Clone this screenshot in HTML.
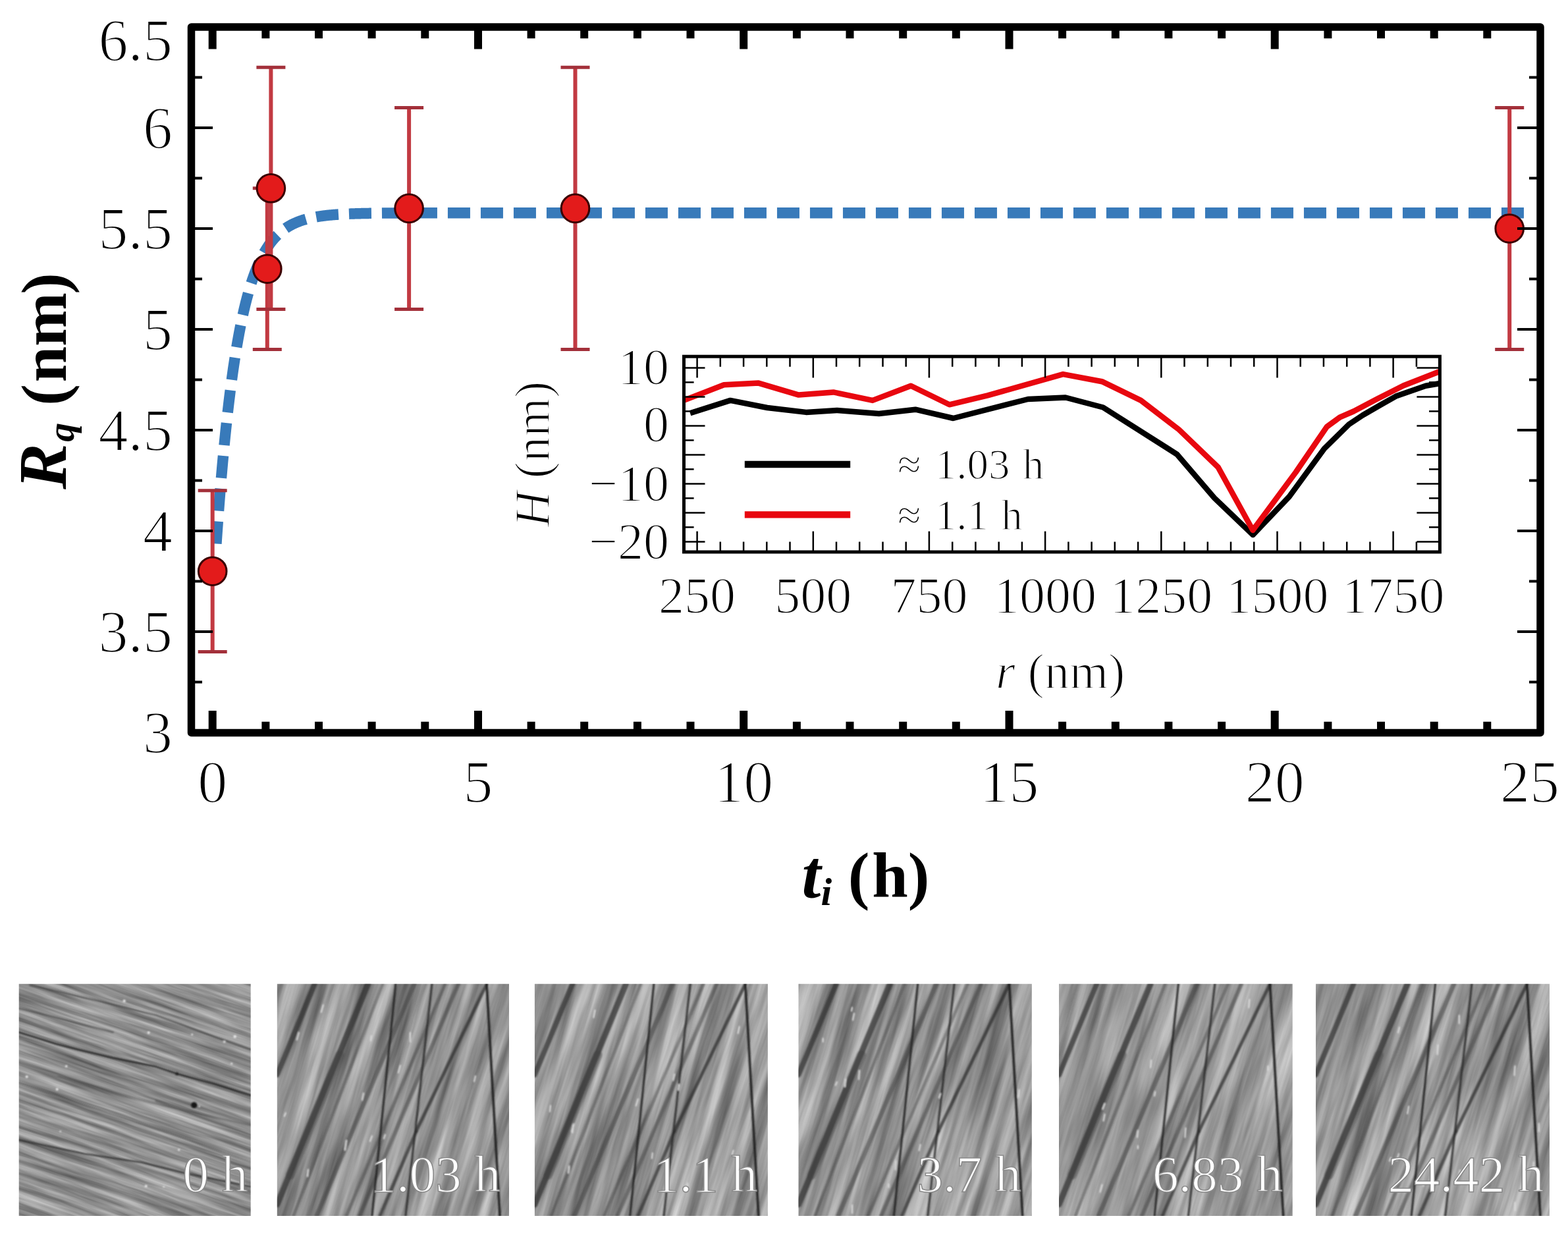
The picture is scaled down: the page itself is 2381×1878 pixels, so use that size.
<!DOCTYPE html>
<html><head><meta charset="utf-8"><title>Rq vs ti</title>
<style>
html,body{margin:0;padding:0;background:#fff;}
body{width:2381px;height:1878px;overflow:hidden;}
svg{display:block;}
text{font-family:"Liberation Serif","Times New Roman",serif;}
</style></head>
<body>
<svg width="2381" height="1878" viewBox="0 0 2381 1878">
<defs><filter id="bl" x="-5%" y="-5%" width="110%" height="110%"><feGaussianBlur stdDeviation="1.3"/></filter><filter id="nA" color-interpolation-filters="sRGB" filterUnits="userSpaceOnUse" x="-300" y="-300" width="600" height="600"><feTurbulence type="fractalNoise" baseFrequency="0.006 0.11" numOctaves="4" seed="5"/><feColorMatrix type="matrix" values="0.55 0 0 0 0.285  0.55 0 0 0 0.285  0.55 0 0 0 0.285  0 0 0 0 1"/></filter><filter id="nB1" color-interpolation-filters="sRGB" filterUnits="userSpaceOnUse" x="-300" y="-300" width="600" height="600"><feTurbulence type="fractalNoise" baseFrequency="0.0035 0.05" numOctaves="4" seed="10"/><feColorMatrix type="matrix" values="0.62 0 0 0 0.28  0.62 0 0 0 0.28  0.62 0 0 0 0.28  0 0 0 0 1"/></filter><filter id="nB2" color-interpolation-filters="sRGB" filterUnits="userSpaceOnUse" x="-300" y="-300" width="600" height="600"><feTurbulence type="fractalNoise" baseFrequency="0.0035 0.05" numOctaves="4" seed="11"/><feColorMatrix type="matrix" values="0.62 0 0 0 0.28  0.62 0 0 0 0.28  0.62 0 0 0 0.28  0 0 0 0 1"/></filter><filter id="nB3" color-interpolation-filters="sRGB" filterUnits="userSpaceOnUse" x="-300" y="-300" width="600" height="600"><feTurbulence type="fractalNoise" baseFrequency="0.0035 0.05" numOctaves="4" seed="12"/><feColorMatrix type="matrix" values="0.62 0 0 0 0.28  0.62 0 0 0 0.28  0.62 0 0 0 0.28  0 0 0 0 1"/></filter><filter id="nB4" color-interpolation-filters="sRGB" filterUnits="userSpaceOnUse" x="-300" y="-300" width="600" height="600"><feTurbulence type="fractalNoise" baseFrequency="0.0035 0.05" numOctaves="4" seed="13"/><feColorMatrix type="matrix" values="0.62 0 0 0 0.28  0.62 0 0 0 0.28  0.62 0 0 0 0.28  0 0 0 0 1"/></filter><filter id="nB5" color-interpolation-filters="sRGB" filterUnits="userSpaceOnUse" x="-300" y="-300" width="600" height="600"><feTurbulence type="fractalNoise" baseFrequency="0.0035 0.05" numOctaves="4" seed="14"/><feColorMatrix type="matrix" values="0.62 0 0 0 0.28  0.62 0 0 0 0.28  0.62 0 0 0 0.28  0 0 0 0 1"/></filter></defs>
<rect width="2381" height="1878" fill="#fff"/>
<!-- fit curve -->
<path d="M2313.95,323.29 L2273.62,323.29 L2233.30,323.29 L2192.97,323.29 L2152.65,323.29 L2112.32,323.29 L2072.00,323.29 L2031.67,323.29 L1991.35,323.29 L1951.02,323.29 L1910.70,323.29 L1870.37,323.29 L1830.05,323.29 L1789.72,323.29 L1749.40,323.29 L1709.07,323.29 L1668.75,323.29 L1628.42,323.29 L1588.10,323.29 L1547.77,323.29 L1507.45,323.29 L1467.12,323.29 L1426.80,323.29 L1386.47,323.29 L1346.15,323.29 L1305.82,323.29 L1265.50,323.29 L1225.17,323.29 L1184.85,323.29 L1144.52,323.29 L1104.20,323.29 L1063.87,323.29 L1023.55,323.29 L983.22,323.29 L942.90,323.29 L902.57,323.29 L862.25,323.29 L821.92,323.29 L781.60,323.29 L741.27,323.29 L700.95,323.29 L660.62,323.32 L620.30,323.39 L579.97,323.61 L564.65,323.80 L563.84,323.81 L563.04,323.82 L562.23,323.84 L561.42,323.85 L560.62,323.86 L559.81,323.88 L559.00,323.89 L558.20,323.91 L557.39,323.92 L556.59,323.94 L555.78,323.95 L554.97,323.97 L554.17,323.98 L553.36,324.00 L552.55,324.02 L551.75,324.03 L550.94,324.05 L550.13,324.07 L549.33,324.09 L548.52,324.11 L547.71,324.13 L546.91,324.15 L546.10,324.17 L545.29,324.19 L544.49,324.21 L543.68,324.23 L542.87,324.25 L542.07,324.28 L541.26,324.30 L540.46,324.33 L539.65,324.35 L538.84,324.38 L538.04,324.40 L537.23,324.43 L536.42,324.46 L535.62,324.48 L534.81,324.51 L534.00,324.54 L533.20,324.57 L532.39,324.60 L531.58,324.63 L530.78,324.66 L529.97,324.70 L529.16,324.73 L528.36,324.77 L527.55,324.80 L526.74,324.84 L525.94,324.87 L525.13,324.91 L524.33,324.95 L523.52,324.99 L522.71,325.03 L521.91,325.07 L521.10,325.11 L520.29,325.16 L519.49,325.20 L518.68,325.25 L517.87,325.29 L517.07,325.34 L516.26,325.39 L515.45,325.44 L514.65,325.49 L513.84,325.54 L513.03,325.60 L512.23,325.65 L511.42,325.71 L510.61,325.77 L509.81,325.83 L509.00,325.89 L508.20,325.95 L507.39,326.01 L506.58,326.08 L505.78,326.14 L504.97,326.21 L504.16,326.28 L503.36,326.35 L502.55,326.43 L501.74,326.50 L500.94,326.58 L500.13,326.65 L499.32,326.73 L498.52,326.82 L497.71,326.90 L496.90,326.99 L496.10,327.07 L495.29,327.16 L494.48,327.26 L493.68,327.35 L492.87,327.45 L492.07,327.55 L491.26,327.65 L490.45,327.75 L489.65,327.86 L488.84,327.97 L488.03,328.08 L487.23,328.19 L486.42,328.31 L485.61,328.43 L484.81,328.55 L484.00,328.68 L483.19,328.80 L482.39,328.94 L481.58,329.07 L480.77,329.21 L479.97,329.35 L479.16,329.49 L478.35,329.64 L477.55,329.79 L476.74,329.95 L475.94,330.10 L475.13,330.27 L474.32,330.43 L473.52,330.60 L472.71,330.78 L471.90,330.95 L471.10,331.14 L470.29,331.32 L469.48,331.51 L468.68,331.71 L467.87,331.91 L467.06,332.12 L466.26,332.33 L465.45,332.54 L464.64,332.76 L463.84,332.99 L463.03,333.22 L462.22,333.45 L461.42,333.69 L460.61,333.94 L459.81,334.20 L459.00,334.45 L458.19,334.72 L457.39,334.99 L456.58,335.27 L455.77,335.56 L454.97,335.85 L454.16,336.15 L453.35,336.45 L452.55,336.77 L451.74,337.09 L450.93,337.41 L450.13,337.75 L449.32,338.09 L448.51,338.45 L447.71,338.81 L446.90,339.18 L446.09,339.55 L445.29,339.94 L444.48,340.34 L443.68,340.74 L442.87,341.16 L442.06,341.58 L441.26,342.02 L440.45,342.46 L439.64,342.92 L438.84,343.39 L438.03,343.86 L437.22,344.35 L436.42,344.85 L435.61,345.37 L434.80,345.89 L434.00,346.43 L433.19,346.98 L432.38,347.54 L431.58,348.12 L430.77,348.71 L429.96,349.31 L429.16,349.93 L428.35,350.57 L427.55,351.22 L426.74,351.88 L425.93,352.56 L425.13,353.26 L424.32,353.97 L423.51,354.70 L422.71,355.45 L421.90,356.21 L421.09,356.99 L420.29,357.79 L419.48,358.61 L418.67,359.45 L417.87,360.31 L417.06,361.20 L416.25,362.10 L415.45,363.02 L414.64,363.96 L413.83,364.93 L413.03,365.92 L412.22,366.94 L411.42,367.97 L410.61,369.04 L409.80,370.12 L409.00,371.24 L408.19,372.38 L407.38,373.55 L406.58,374.74 L405.77,375.96 L404.96,377.22 L404.16,378.50 L403.35,379.81 L402.54,381.16 L401.74,382.53 L400.93,383.94 L400.12,385.38 L399.32,386.86 L398.51,388.37 L397.70,389.92 L396.90,391.50 L396.09,393.13 L395.29,394.79 L394.48,396.49 L393.67,398.23 L392.87,400.01 L392.06,401.83 L391.25,403.70 L390.45,405.61 L389.64,407.57 L388.83,409.58 L388.03,411.63 L387.22,413.73 L386.41,415.88 L385.61,418.08 L384.80,420.33 L383.99,422.64 L383.19,425.01 L382.38,427.42 L381.57,429.90 L380.77,432.44 L379.96,435.03 L379.16,437.69 L378.35,440.41 L377.54,443.19 L376.74,446.04 L375.93,448.96 L375.12,451.95 L374.32,455.01 L373.51,458.14 L372.70,461.35 L371.90,464.63 L371.09,467.99 L370.28,471.44 L369.48,474.96 L368.67,478.56 L367.86,482.26 L367.06,486.04 L366.25,489.91 L365.44,493.87 L364.64,497.92 L363.83,502.08 L363.03,506.33 L362.22,510.68 L361.41,515.14 L360.61,519.70 L359.80,524.37 L358.99,529.15 L358.19,534.05 L357.38,539.06 L356.57,544.19 L355.77,549.44 L354.96,554.82 L354.15,560.32 L353.35,565.96 L352.54,571.73 L351.73,577.64 L350.93,583.69 L350.12,589.88 L349.31,596.22 L348.51,602.71 L347.70,609.35 L346.90,616.15 L346.09,623.12 L345.28,630.25 L344.48,637.55 L343.67,645.02 L342.86,652.67 L342.06,660.50 L341.25,668.52 L340.44,676.73 L339.64,685.13 L338.83,693.74 L338.02,702.55 L337.22,711.56 L336.41,720.80 L335.60,730.25 L334.80,739.93 L333.99,749.83 L333.18,759.98 L332.38,770.36 L331.57,780.99 L330.77,791.87 L329.96,803.02 L329.15,814.42 L328.35,826.10 L328.31,826.69" fill="none" stroke="#387aba" stroke-width="16.5" stroke-dasharray="34 16"/>
<!-- error bars -->
<g stroke="#c23a42">
<line x1="322.7" y1="744.8" x2="322.7" y2="989.6" stroke-width="6"/>
<line x1="300.7" y1="744.8" x2="344.7" y2="744.8" stroke="#a3303a" stroke-width="5"/>
<line x1="300.7" y1="989.6" x2="344.7" y2="989.6" stroke="#a3303a" stroke-width="5"/>
<line x1="405.8" y1="285.8" x2="405.8" y2="530.6" stroke-width="6"/>
<line x1="383.8" y1="285.8" x2="427.8" y2="285.8" stroke="#a3303a" stroke-width="5"/>
<line x1="383.8" y1="530.6" x2="427.8" y2="530.6" stroke="#a3303a" stroke-width="5"/>
<line x1="411.4" y1="102.2" x2="411.4" y2="469.4" stroke-width="6"/>
<line x1="389.4" y1="102.2" x2="433.4" y2="102.2" stroke="#a3303a" stroke-width="5"/>
<line x1="389.4" y1="469.4" x2="433.4" y2="469.4" stroke="#a3303a" stroke-width="5"/>
<line x1="621.1" y1="163.4" x2="621.1" y2="469.4" stroke-width="6"/>
<line x1="599.1" y1="163.4" x2="643.1" y2="163.4" stroke="#a3303a" stroke-width="5"/>
<line x1="599.1" y1="469.4" x2="643.1" y2="469.4" stroke="#a3303a" stroke-width="5"/>
<line x1="873.5" y1="102.2" x2="873.5" y2="530.6" stroke-width="6"/>
<line x1="851.5" y1="102.2" x2="895.5" y2="102.2" stroke="#a3303a" stroke-width="5"/>
<line x1="851.5" y1="530.6" x2="895.5" y2="530.6" stroke="#a3303a" stroke-width="5"/>
<line x1="2292.2" y1="163.4" x2="2292.2" y2="530.6" stroke-width="6"/>
<line x1="2270.2" y1="163.4" x2="2314.2" y2="163.4" stroke="#a3303a" stroke-width="5"/>
<line x1="2270.2" y1="530.6" x2="2314.2" y2="530.6" stroke="#a3303a" stroke-width="5"/>
</g>
<g fill="#e31b1b" stroke="#3a0000" stroke-width="3">
<circle cx="322.7" cy="867.2" r="21.3"/>
<circle cx="405.8" cy="408.2" r="21.3"/>
<circle cx="411.4" cy="285.8" r="21.3"/>
<circle cx="621.1" cy="316.4" r="21.3"/>
<circle cx="873.5" cy="316.4" r="21.3"/>
<circle cx="2292.2" cy="347.0" r="21.3"/>
</g>
<!-- inset -->
<g stroke-linejoin="round" stroke-linecap="butt" fill="none" stroke-width="8.5">
<polyline points="1048,627.3 1109,607.9 1165,619 1224,625.9 1271,623 1334.7,628 1390,621.7 1447.5,635 1561,606 1618,603.5 1675,618.5 1787,689.6 1844,756 1902.5,812 1957.7,754 2011,681 2027.3,665 2048.4,644.3 2069.5,630.2 2097.6,614 2119.7,601.6 2165,585.7 2185.3,582.3" stroke="#000"/>
<polyline points="1038.3,607.9 1099.3,584.3 1151.9,581.6 1212.8,599.6 1265.5,595.4 1325,607.9 1383.2,585.7 1441.6,614.3 1499.7,600.4 1614.2,568.1 1673.3,579.2 1732.4,607.8 1790,652 1849.7,709.4 1902.4,805 1967.6,717 2015,647.7 2034.3,633.7 2055.4,624.5 2090.5,606 2131,585.5 2185.3,564.2" stroke="#e8070f"/>
</g>
<g stroke="#000" stroke-width="2.5">
<line x1="1058.6" y1="541.2" x2="1058.6" y2="573.5"/>
<line x1="1058.6" y1="838" x2="1058.6" y2="806.6"/>
<line x1="1093.8" y1="541.2" x2="1093.8" y2="556.8"/>
<line x1="1093.8" y1="838" x2="1093.8" y2="822.5"/>
<line x1="1129.1" y1="541.2" x2="1129.1" y2="556.8"/>
<line x1="1129.1" y1="838" x2="1129.1" y2="822.5"/>
<line x1="1164.3" y1="541.2" x2="1164.3" y2="556.8"/>
<line x1="1164.3" y1="838" x2="1164.3" y2="822.5"/>
<line x1="1199.5" y1="541.2" x2="1199.5" y2="556.8"/>
<line x1="1199.5" y1="838" x2="1199.5" y2="822.5"/>
<line x1="1234.8" y1="541.2" x2="1234.8" y2="573.5"/>
<line x1="1234.8" y1="838" x2="1234.8" y2="806.6"/>
<line x1="1270.0" y1="541.2" x2="1270.0" y2="556.8"/>
<line x1="1270.0" y1="838" x2="1270.0" y2="822.5"/>
<line x1="1305.2" y1="541.2" x2="1305.2" y2="556.8"/>
<line x1="1305.2" y1="838" x2="1305.2" y2="822.5"/>
<line x1="1340.5" y1="541.2" x2="1340.5" y2="556.8"/>
<line x1="1340.5" y1="838" x2="1340.5" y2="822.5"/>
<line x1="1375.7" y1="541.2" x2="1375.7" y2="556.8"/>
<line x1="1375.7" y1="838" x2="1375.7" y2="822.5"/>
<line x1="1410.9" y1="541.2" x2="1410.9" y2="573.5"/>
<line x1="1410.9" y1="838" x2="1410.9" y2="806.6"/>
<line x1="1446.2" y1="541.2" x2="1446.2" y2="556.8"/>
<line x1="1446.2" y1="838" x2="1446.2" y2="822.5"/>
<line x1="1481.4" y1="541.2" x2="1481.4" y2="556.8"/>
<line x1="1481.4" y1="838" x2="1481.4" y2="822.5"/>
<line x1="1516.7" y1="541.2" x2="1516.7" y2="556.8"/>
<line x1="1516.7" y1="838" x2="1516.7" y2="822.5"/>
<line x1="1551.9" y1="541.2" x2="1551.9" y2="556.8"/>
<line x1="1551.9" y1="838" x2="1551.9" y2="822.5"/>
<line x1="1587.1" y1="541.2" x2="1587.1" y2="573.5"/>
<line x1="1587.1" y1="838" x2="1587.1" y2="806.6"/>
<line x1="1622.4" y1="541.2" x2="1622.4" y2="556.8"/>
<line x1="1622.4" y1="838" x2="1622.4" y2="822.5"/>
<line x1="1657.6" y1="541.2" x2="1657.6" y2="556.8"/>
<line x1="1657.6" y1="838" x2="1657.6" y2="822.5"/>
<line x1="1692.8" y1="541.2" x2="1692.8" y2="556.8"/>
<line x1="1692.8" y1="838" x2="1692.8" y2="822.5"/>
<line x1="1728.1" y1="541.2" x2="1728.1" y2="556.8"/>
<line x1="1728.1" y1="838" x2="1728.1" y2="822.5"/>
<line x1="1763.3" y1="541.2" x2="1763.3" y2="573.5"/>
<line x1="1763.3" y1="838" x2="1763.3" y2="806.6"/>
<line x1="1798.5" y1="541.2" x2="1798.5" y2="556.8"/>
<line x1="1798.5" y1="838" x2="1798.5" y2="822.5"/>
<line x1="1833.8" y1="541.2" x2="1833.8" y2="556.8"/>
<line x1="1833.8" y1="838" x2="1833.8" y2="822.5"/>
<line x1="1869.0" y1="541.2" x2="1869.0" y2="556.8"/>
<line x1="1869.0" y1="838" x2="1869.0" y2="822.5"/>
<line x1="1904.2" y1="541.2" x2="1904.2" y2="556.8"/>
<line x1="1904.2" y1="838" x2="1904.2" y2="822.5"/>
<line x1="1939.5" y1="541.2" x2="1939.5" y2="573.5"/>
<line x1="1939.5" y1="838" x2="1939.5" y2="806.6"/>
<line x1="1974.7" y1="541.2" x2="1974.7" y2="556.8"/>
<line x1="1974.7" y1="838" x2="1974.7" y2="822.5"/>
<line x1="2009.9" y1="541.2" x2="2009.9" y2="556.8"/>
<line x1="2009.9" y1="838" x2="2009.9" y2="822.5"/>
<line x1="2045.2" y1="541.2" x2="2045.2" y2="556.8"/>
<line x1="2045.2" y1="838" x2="2045.2" y2="822.5"/>
<line x1="2080.4" y1="541.2" x2="2080.4" y2="556.8"/>
<line x1="2080.4" y1="838" x2="2080.4" y2="822.5"/>
<line x1="2115.6" y1="541.2" x2="2115.6" y2="573.5"/>
<line x1="2115.6" y1="838" x2="2115.6" y2="806.6"/>
<line x1="2150.9" y1="541.2" x2="2150.9" y2="556.8"/>
<line x1="2150.9" y1="838" x2="2150.9" y2="822.5"/>
<line x1="1038.5" y1="822.4" x2="1070.5" y2="822.4"/>
<line x1="2186.4" y1="822.4" x2="2151.4" y2="822.4"/>
<line x1="1038.5" y1="800.4" x2="1053.6" y2="800.4"/>
<line x1="2186.4" y1="800.4" x2="2170" y2="800.4"/>
<line x1="1038.5" y1="778.4" x2="1070.5" y2="778.4"/>
<line x1="2186.4" y1="778.4" x2="2151.4" y2="778.4"/>
<line x1="1038.5" y1="756.4" x2="1053.6" y2="756.4"/>
<line x1="2186.4" y1="756.4" x2="2170" y2="756.4"/>
<line x1="1038.5" y1="734.4" x2="1070.5" y2="734.4"/>
<line x1="2186.4" y1="734.4" x2="2151.4" y2="734.4"/>
<line x1="1038.5" y1="712.4" x2="1053.6" y2="712.4"/>
<line x1="2186.4" y1="712.4" x2="2170" y2="712.4"/>
<line x1="1038.5" y1="690.4" x2="1070.5" y2="690.4"/>
<line x1="2186.4" y1="690.4" x2="2151.4" y2="690.4"/>
<line x1="1038.5" y1="668.4" x2="1053.6" y2="668.4"/>
<line x1="2186.4" y1="668.4" x2="2170" y2="668.4"/>
<line x1="1038.5" y1="646.4" x2="1070.5" y2="646.4"/>
<line x1="2186.4" y1="646.4" x2="2151.4" y2="646.4"/>
<line x1="1038.5" y1="624.4" x2="1053.6" y2="624.4"/>
<line x1="2186.4" y1="624.4" x2="2170" y2="624.4"/>
<line x1="1038.5" y1="602.4" x2="1070.5" y2="602.4"/>
<line x1="2186.4" y1="602.4" x2="2151.4" y2="602.4"/>
<line x1="1038.5" y1="580.4" x2="1053.6" y2="580.4"/>
<line x1="2186.4" y1="580.4" x2="2170" y2="580.4"/>
<line x1="1038.5" y1="558.4" x2="1070.5" y2="558.4"/>
<line x1="2186.4" y1="558.4" x2="2151.4" y2="558.4"/>
</g>
<rect x="1038.5" y="541.2" width="1147.9" height="296.8" fill="none" stroke="#000" stroke-width="5"/>
<line x1="1130.8" y1="705" x2="1291.2" y2="705" stroke="#000" stroke-width="10.4"/>
<line x1="1130.8" y1="781.4" x2="1291.2" y2="781.4" stroke="#e8070f" stroke-width="10.4"/>
<g font-size="65" stroke="#fff" stroke-width="1.6">
<text x="1363" y="727">≈</text><text x="1419.7" y="727">1.03 <tspan dx="3">h</tspan></text>
<text x="1363" y="803.8">≈</text><text x="1419.7" y="803.8">1.1 <tspan dx="3">h</tspan></text>
</g>
<g font-size="78" stroke="#fff" stroke-width="1.8">
<text x="1058.6" y="929.5" text-anchor="middle">250</text>
<text x="1234.8" y="929.5" text-anchor="middle">500</text>
<text x="1410.9" y="929.5" text-anchor="middle">750</text>
<text x="1587.1" y="929.5" text-anchor="middle">1000</text>
<text x="1763.3" y="929.5" text-anchor="middle">1250</text>
<text x="1939.5" y="929.5" text-anchor="middle">1500</text>
<text x="2115.6" y="929.5" text-anchor="middle">1750</text>
<text x="1016" y="583" text-anchor="end">10</text>
<text x="1016" y="670" text-anchor="end">0</text>
<text x="1016" y="759.5" text-anchor="end">−10</text>
<text x="1016" y="847.5" text-anchor="end">−20</text>
<text x="1512" y="1044.5" font-size="76"><tspan font-style="italic">r</tspan> (nm)</text>
<text transform="translate(833.7,689.5) rotate(-90)" text-anchor="middle" font-size="76"><tspan font-style="italic">H</tspan> (nm)</text>
</g>
<!-- main frame -->
<g stroke="#000" stroke-width="12">
<line x1="322.7" y1="41" x2="322.7" y2="74.5"/>
<line x1="322.7" y1="1112.5" x2="322.7" y2="1079"/>
<line x1="403.4" y1="41" x2="403.4" y2="58.3"/>
<line x1="403.4" y1="1112.5" x2="403.4" y2="1095.7"/>
<line x1="484.0" y1="41" x2="484.0" y2="58.3"/>
<line x1="484.0" y1="1112.5" x2="484.0" y2="1095.7"/>
<line x1="564.6" y1="41" x2="564.6" y2="58.3"/>
<line x1="564.6" y1="1112.5" x2="564.6" y2="1095.7"/>
<line x1="645.3" y1="41" x2="645.3" y2="58.3"/>
<line x1="645.3" y1="1112.5" x2="645.3" y2="1095.7"/>
<line x1="726.0" y1="41" x2="726.0" y2="74.5"/>
<line x1="726.0" y1="1112.5" x2="726.0" y2="1079"/>
<line x1="806.6" y1="41" x2="806.6" y2="58.3"/>
<line x1="806.6" y1="1112.5" x2="806.6" y2="1095.7"/>
<line x1="887.2" y1="41" x2="887.2" y2="58.3"/>
<line x1="887.2" y1="1112.5" x2="887.2" y2="1095.7"/>
<line x1="967.9" y1="41" x2="967.9" y2="58.3"/>
<line x1="967.9" y1="1112.5" x2="967.9" y2="1095.7"/>
<line x1="1048.5" y1="41" x2="1048.5" y2="58.3"/>
<line x1="1048.5" y1="1112.5" x2="1048.5" y2="1095.7"/>
<line x1="1129.2" y1="41" x2="1129.2" y2="74.5"/>
<line x1="1129.2" y1="1112.5" x2="1129.2" y2="1079"/>
<line x1="1209.9" y1="41" x2="1209.9" y2="58.3"/>
<line x1="1209.9" y1="1112.5" x2="1209.9" y2="1095.7"/>
<line x1="1290.5" y1="41" x2="1290.5" y2="58.3"/>
<line x1="1290.5" y1="1112.5" x2="1290.5" y2="1095.7"/>
<line x1="1371.2" y1="41" x2="1371.2" y2="58.3"/>
<line x1="1371.2" y1="1112.5" x2="1371.2" y2="1095.7"/>
<line x1="1451.8" y1="41" x2="1451.8" y2="58.3"/>
<line x1="1451.8" y1="1112.5" x2="1451.8" y2="1095.7"/>
<line x1="1532.5" y1="41" x2="1532.5" y2="74.5"/>
<line x1="1532.5" y1="1112.5" x2="1532.5" y2="1079"/>
<line x1="1613.1" y1="41" x2="1613.1" y2="58.3"/>
<line x1="1613.1" y1="1112.5" x2="1613.1" y2="1095.7"/>
<line x1="1693.8" y1="41" x2="1693.8" y2="58.3"/>
<line x1="1693.8" y1="1112.5" x2="1693.8" y2="1095.7"/>
<line x1="1774.4" y1="41" x2="1774.4" y2="58.3"/>
<line x1="1774.4" y1="1112.5" x2="1774.4" y2="1095.7"/>
<line x1="1855.1" y1="41" x2="1855.1" y2="58.3"/>
<line x1="1855.1" y1="1112.5" x2="1855.1" y2="1095.7"/>
<line x1="1935.7" y1="41" x2="1935.7" y2="74.5"/>
<line x1="1935.7" y1="1112.5" x2="1935.7" y2="1079"/>
<line x1="2016.4" y1="41" x2="2016.4" y2="58.3"/>
<line x1="2016.4" y1="1112.5" x2="2016.4" y2="1095.7"/>
<line x1="2097.0" y1="41" x2="2097.0" y2="58.3"/>
<line x1="2097.0" y1="1112.5" x2="2097.0" y2="1095.7"/>
<line x1="2177.7" y1="41" x2="2177.7" y2="58.3"/>
<line x1="2177.7" y1="1112.5" x2="2177.7" y2="1095.7"/>
<line x1="2258.3" y1="41" x2="2258.3" y2="58.3"/>
<line x1="2258.3" y1="1112.5" x2="2258.3" y2="1095.7"/>
</g>
<g stroke="#000" stroke-width="4">
<line x1="290.5" y1="1035.5" x2="307" y2="1035.5"/>
<line x1="2339" y1="1035.5" x2="2322" y2="1035.5"/>
<line x1="290.5" y1="959.0" x2="323" y2="959.0"/>
<line x1="2339" y1="959.0" x2="2304" y2="959.0"/>
<line x1="290.5" y1="882.5" x2="307" y2="882.5"/>
<line x1="2339" y1="882.5" x2="2322" y2="882.5"/>
<line x1="290.5" y1="806.0" x2="323" y2="806.0"/>
<line x1="2339" y1="806.0" x2="2304" y2="806.0"/>
<line x1="290.5" y1="729.5" x2="307" y2="729.5"/>
<line x1="2339" y1="729.5" x2="2322" y2="729.5"/>
<line x1="290.5" y1="653.0" x2="323" y2="653.0"/>
<line x1="2339" y1="653.0" x2="2304" y2="653.0"/>
<line x1="290.5" y1="576.5" x2="307" y2="576.5"/>
<line x1="2339" y1="576.5" x2="2322" y2="576.5"/>
<line x1="290.5" y1="500.0" x2="323" y2="500.0"/>
<line x1="2339" y1="500.0" x2="2304" y2="500.0"/>
<line x1="290.5" y1="423.5" x2="307" y2="423.5"/>
<line x1="2339" y1="423.5" x2="2322" y2="423.5"/>
<line x1="290.5" y1="347.0" x2="323" y2="347.0"/>
<line x1="2339" y1="347.0" x2="2304" y2="347.0"/>
<line x1="290.5" y1="270.5" x2="307" y2="270.5"/>
<line x1="2339" y1="270.5" x2="2322" y2="270.5"/>
<line x1="290.5" y1="194.0" x2="323" y2="194.0"/>
<line x1="2339" y1="194.0" x2="2304" y2="194.0"/>
<line x1="290.5" y1="117.5" x2="307" y2="117.5"/>
<line x1="2339" y1="117.5" x2="2322" y2="117.5"/>
</g>
<rect x="290.5" y="41" width="2048.5" height="1071.5" fill="none" stroke="#000" stroke-width="11.5" stroke-linejoin="round"/>
<g font-size="90" stroke="#fff" stroke-width="2">
<text x="262" y="92" text-anchor="end">6.5</text>
<text x="262" y="225" text-anchor="end">6</text>
<text x="262" y="378" text-anchor="end">5.5</text>
<text x="262" y="531" text-anchor="end">5</text>
<text x="262" y="684" text-anchor="end">4.5</text>
<text x="262" y="837" text-anchor="end">4</text>
<text x="262" y="990" text-anchor="end">3.5</text>
<text x="262" y="1142.5" text-anchor="end">3</text>
<text x="322.7" y="1218" text-anchor="middle">0</text>
<text x="726.0" y="1218" text-anchor="middle">5</text>
<text x="1129.2" y="1218" text-anchor="middle">10</text>
<text x="1532.5" y="1218" text-anchor="middle">15</text>
<text x="1935.7" y="1218" text-anchor="middle">20</text>
<text x="2323.0" y="1218" text-anchor="middle">25</text>
</g>
<g font-size="98" font-weight="bold">
<text transform="translate(99.7,742.7) rotate(-90)"><tspan font-style="italic" font-size="104">R</tspan><tspan font-style="italic" font-size="58" dx="2.6" dy="12.1">q</tspan><tspan dy="-12.1" dx="1.4"> (</tspan><tspan dx="3">nm</tspan><tspan dx="-2.8">)</tspan></text>
<text x="1217.6" y="1361.5"><tspan font-style="italic" font-size="104">t</tspan><tspan font-style="italic" font-size="60" dy="12">i</tspan><tspan dy="-12"> (</tspan><tspan dx="4">h</tspan>)</text>
</g>
<!-- AFM images -->
<clipPath id="c0"><rect x="28.7" y="1493.7" width="352.0" height="352.3"/></clipPath>
<g clip-path="url(#c0)">
<g transform="translate(204.7,1669.9) rotate(19)"><rect x="-300" y="-300" width="600" height="600" filter="url(#nA)"/></g>
<g filter="url(#bl)" transform="translate(28.7,1493.7)" fill="none" stroke-linecap="round" stroke-linejoin="round">
<polyline points="0,73.6 56,91 89,99.6 143,112.6 208,125.6 240,136.5 295,151.6 352,169" stroke="#262626" stroke-width="3.0" stroke-opacity="0.85"/>
<polyline points="0,237 100,258 186,271 251,287 352,308" stroke="#2a2a2a" stroke-width="2.6" stroke-opacity="0.8"/>
<polyline points="17,2 121,26 208,47.6 273,71.5 352,99.6" stroke="#353535" stroke-width="2.6" stroke-opacity="0.65"/>
<polyline points="0,37 143,73.6" stroke="#3a3a3a" stroke-width="2.5" stroke-opacity="0.6"/>
<polyline points="208,177.6 352,229.6" stroke="#404040" stroke-width="2.5" stroke-opacity="0.55"/>
<polyline points="60,140 200,180 352,215" stroke="#454545" stroke-width="2.2" stroke-opacity="0.45"/>
<polyline points="0,150 120,190 300,252 352,270" stroke="#454545" stroke-width="2.2" stroke-opacity="0.4"/>
<circle cx="266" cy="184" r="4.5" fill="#151515"/><circle cx="240" cy="136.5" r="2.5" fill="#202020"/>
<circle cx="58" cy="160" r="2.0" fill="#e8e8e8"/>
<circle cx="243" cy="252" r="1.6" fill="#e8e8e8"/>
<circle cx="274" cy="186" r="1.3" fill="#e8e8e8"/>
<circle cx="160" cy="26" r="2.1" fill="#e8e8e8"/>
<circle cx="323" cy="121" r="1.5" fill="#e8e8e8"/>
<circle cx="263" cy="77" r="1.4" fill="#e8e8e8"/>
<circle cx="72" cy="125" r="1.8" fill="#e8e8e8"/>
<circle cx="328" cy="80" r="2.2" fill="#e8e8e8"/>
<circle cx="193" cy="307" r="2.0" fill="#e8e8e8"/>
<circle cx="63" cy="224" r="1.3" fill="#e8e8e8"/>
<circle cx="12" cy="141" r="2.0" fill="#e8e8e8"/>
<circle cx="197" cy="74" r="2.0" fill="#e8e8e8"/>
<circle cx="312" cy="88" r="1.6" fill="#e8e8e8"/>
<circle cx="220" cy="308" r="1.3" fill="#e8e8e8"/>
</g>
</g>
<clipPath id="c1"><rect x="420.8" y="1493.7" width="352.2" height="352.3"/></clipPath>
<g clip-path="url(#c1)">
<g transform="translate(596.9,1669.9) rotate(-73)"><rect x="-300" y="-300" width="600" height="600" filter="url(#nB1)"/></g>
<g filter="url(#bl)" transform="translate(420.8,1493.7) scale(1.0006,1)" fill="none" stroke-linecap="round">
<line x1="57" y1="0" x2="0" y2="138" stroke="#303030" stroke-width="8" stroke-opacity="0.75"/>
<line x1="138" y1="0" x2="0" y2="335" stroke="#303030" stroke-width="9" stroke-opacity="0.75"/>
<line x1="95" y1="108" x2="20" y2="290" stroke="#404040" stroke-width="14" stroke-opacity="0.45"/>
<line x1="208" y1="0" x2="60" y2="352" stroke="#383838" stroke-width="7" stroke-opacity="0.55"/>
<line x1="275" y1="0" x2="125" y2="352" stroke="#3a3a3a" stroke-width="6" stroke-opacity="0.5"/>
<line x1="160" y1="0" x2="25" y2="352" stroke="#3a3a3a" stroke-width="5" stroke-opacity="0.45"/>
<line x1="255" y1="0" x2="105" y2="352" stroke="#3a3a3a" stroke-width="5" stroke-opacity="0.45"/>
<line x1="318" y1="0" x2="211" y2="224" stroke="#2e2e2e" stroke-width="5" stroke-opacity="0.75"/>
<line x1="211" y1="224" x2="156" y2="352" stroke="#2e2e2e" stroke-width="5" stroke-opacity="0.7"/>
<line x1="318" y1="0" x2="338" y2="352" stroke="#1e1e1e" stroke-width="3.5" stroke-opacity="0.95"/>
<line x1="180" y1="0" x2="144" y2="352" stroke="#252525" stroke-width="3.2" stroke-opacity="0.9"/>
<line x1="235" y1="0" x2="195" y2="352" stroke="#2a2a2a" stroke-width="3.2" stroke-opacity="0.85"/>
<line x1="202" y1="74" x2="202" y2="88" stroke="#dcdcdc" stroke-width="2.2"/>
<line x1="164" y1="229" x2="162" y2="235" stroke="#dcdcdc" stroke-width="2.2"/>
<line x1="105" y1="238" x2="103" y2="252" stroke="#dcdcdc" stroke-width="2.2"/>
<line x1="33" y1="74" x2="30" y2="85" stroke="#dcdcdc" stroke-width="2.2"/>
<line x1="131" y1="166" x2="129" y2="176" stroke="#dcdcdc" stroke-width="2.2"/>
<line x1="143" y1="79" x2="142" y2="86" stroke="#dcdcdc" stroke-width="2.2"/>
<line x1="47" y1="282" x2="46" y2="292" stroke="#dcdcdc" stroke-width="2.2"/>
<line x1="301" y1="140" x2="299" y2="148" stroke="#dcdcdc" stroke-width="2.2"/>
<line x1="144" y1="231" x2="141" y2="239" stroke="#dcdcdc" stroke-width="2.2"/>
<line x1="187" y1="124" x2="184" y2="135" stroke="#dcdcdc" stroke-width="2.2"/>
<line x1="13" y1="196" x2="11" y2="201" stroke="#dcdcdc" stroke-width="2.2"/>
<line x1="70" y1="32" x2="67" y2="43" stroke="#dcdcdc" stroke-width="2.2"/>
</g>
</g>
<clipPath id="c2"><rect x="811.9" y="1493.7" width="354.0" height="352.3"/></clipPath>
<g clip-path="url(#c2)">
<g transform="translate(988.9,1669.9) rotate(-73)"><rect x="-300" y="-300" width="600" height="600" filter="url(#nB2)"/></g>
<g filter="url(#bl)" transform="translate(811.9,1493.7) scale(1.0057,1)" fill="none" stroke-linecap="round">
<line x1="57" y1="0" x2="0" y2="138" stroke="#303030" stroke-width="8" stroke-opacity="0.75"/>
<line x1="138" y1="0" x2="0" y2="335" stroke="#303030" stroke-width="9" stroke-opacity="0.75"/>
<line x1="95" y1="108" x2="20" y2="290" stroke="#404040" stroke-width="14" stroke-opacity="0.45"/>
<line x1="208" y1="0" x2="60" y2="352" stroke="#383838" stroke-width="7" stroke-opacity="0.55"/>
<line x1="275" y1="0" x2="125" y2="352" stroke="#3a3a3a" stroke-width="6" stroke-opacity="0.5"/>
<line x1="160" y1="0" x2="25" y2="352" stroke="#3a3a3a" stroke-width="5" stroke-opacity="0.45"/>
<line x1="255" y1="0" x2="105" y2="352" stroke="#3a3a3a" stroke-width="5" stroke-opacity="0.45"/>
<line x1="318" y1="0" x2="211" y2="224" stroke="#2e2e2e" stroke-width="5" stroke-opacity="0.75"/>
<line x1="211" y1="224" x2="156" y2="352" stroke="#2e2e2e" stroke-width="5" stroke-opacity="0.7"/>
<line x1="318" y1="0" x2="338" y2="352" stroke="#1e1e1e" stroke-width="3.5" stroke-opacity="0.95"/>
<line x1="180" y1="0" x2="144" y2="352" stroke="#252525" stroke-width="3.2" stroke-opacity="0.9"/>
<line x1="235" y1="0" x2="195" y2="352" stroke="#2a2a2a" stroke-width="3.2" stroke-opacity="0.85"/>
<line x1="59" y1="213" x2="56" y2="224" stroke="#dcdcdc" stroke-width="2.2"/>
<line x1="211" y1="137" x2="209" y2="146" stroke="#dcdcdc" stroke-width="2.2"/>
<line x1="24" y1="185" x2="23" y2="194" stroke="#dcdcdc" stroke-width="2.2"/>
<line x1="300" y1="253" x2="298" y2="259" stroke="#dcdcdc" stroke-width="2.2"/>
<line x1="52" y1="277" x2="51" y2="287" stroke="#dcdcdc" stroke-width="2.2"/>
<line x1="156" y1="175" x2="153" y2="185" stroke="#dcdcdc" stroke-width="2.2"/>
<line x1="58" y1="215" x2="57" y2="226" stroke="#dcdcdc" stroke-width="2.2"/>
<line x1="91" y1="40" x2="89" y2="51" stroke="#dcdcdc" stroke-width="2.2"/>
<line x1="178" y1="257" x2="177" y2="265" stroke="#dcdcdc" stroke-width="2.2"/>
<line x1="309" y1="65" x2="307" y2="75" stroke="#dcdcdc" stroke-width="2.2"/>
<line x1="218" y1="153" x2="217" y2="161" stroke="#dcdcdc" stroke-width="2.2"/>
<line x1="231" y1="303" x2="230" y2="314" stroke="#dcdcdc" stroke-width="2.2"/>
</g>
</g>
<clipPath id="c3"><rect x="1212.5" y="1493.7" width="354.3" height="352.3"/></clipPath>
<g clip-path="url(#c3)">
<g transform="translate(1389.7,1669.9) rotate(-73)"><rect x="-300" y="-300" width="600" height="600" filter="url(#nB3)"/></g>
<g filter="url(#bl)" transform="translate(1212.5,1493.7) scale(1.0065,1)" fill="none" stroke-linecap="round">
<line x1="57" y1="0" x2="0" y2="138" stroke="#303030" stroke-width="8" stroke-opacity="0.75"/>
<line x1="138" y1="0" x2="0" y2="335" stroke="#303030" stroke-width="9" stroke-opacity="0.75"/>
<line x1="95" y1="108" x2="20" y2="290" stroke="#404040" stroke-width="14" stroke-opacity="0.45"/>
<line x1="208" y1="0" x2="60" y2="352" stroke="#383838" stroke-width="7" stroke-opacity="0.55"/>
<line x1="275" y1="0" x2="125" y2="352" stroke="#3a3a3a" stroke-width="6" stroke-opacity="0.5"/>
<line x1="160" y1="0" x2="25" y2="352" stroke="#3a3a3a" stroke-width="5" stroke-opacity="0.45"/>
<line x1="255" y1="0" x2="105" y2="352" stroke="#3a3a3a" stroke-width="5" stroke-opacity="0.45"/>
<line x1="318" y1="0" x2="211" y2="224" stroke="#2e2e2e" stroke-width="5" stroke-opacity="0.75"/>
<line x1="211" y1="224" x2="156" y2="352" stroke="#2e2e2e" stroke-width="5" stroke-opacity="0.7"/>
<line x1="318" y1="0" x2="338" y2="352" stroke="#1e1e1e" stroke-width="3.5" stroke-opacity="0.95"/>
<line x1="180" y1="0" x2="144" y2="352" stroke="#252525" stroke-width="3.2" stroke-opacity="0.9"/>
<line x1="235" y1="0" x2="195" y2="352" stroke="#2a2a2a" stroke-width="3.2" stroke-opacity="0.85"/>
<line x1="333" y1="161" x2="332" y2="172" stroke="#dcdcdc" stroke-width="2.2"/>
<line x1="81" y1="36" x2="80" y2="41" stroke="#dcdcdc" stroke-width="2.2"/>
<line x1="136" y1="304" x2="136" y2="309" stroke="#dcdcdc" stroke-width="2.2"/>
<line x1="37" y1="83" x2="37" y2="88" stroke="#dcdcdc" stroke-width="2.2"/>
<line x1="84" y1="45" x2="82" y2="55" stroke="#dcdcdc" stroke-width="2.2"/>
<line x1="71" y1="145" x2="70" y2="156" stroke="#dcdcdc" stroke-width="2.2"/>
<line x1="147" y1="269" x2="146" y2="282" stroke="#dcdcdc" stroke-width="2.2"/>
<line x1="92" y1="132" x2="91" y2="145" stroke="#dcdcdc" stroke-width="2.2"/>
<line x1="214" y1="167" x2="212" y2="173" stroke="#dcdcdc" stroke-width="2.2"/>
<line x1="81" y1="336" x2="81" y2="348" stroke="#dcdcdc" stroke-width="2.2"/>
<line x1="184" y1="244" x2="182" y2="253" stroke="#dcdcdc" stroke-width="2.2"/>
<line x1="58" y1="149" x2="56" y2="154" stroke="#dcdcdc" stroke-width="2.2"/>
</g>
</g>
<clipPath id="c4"><rect x="1608.0" y="1493.7" width="354.7" height="352.3"/></clipPath>
<g clip-path="url(#c4)">
<g transform="translate(1785.3,1669.9) rotate(-73)"><rect x="-300" y="-300" width="600" height="600" filter="url(#nB4)"/></g>
<g filter="url(#bl)" transform="translate(1608.0,1493.7) scale(1.0077,1)" fill="none" stroke-linecap="round">
<line x1="57" y1="0" x2="0" y2="138" stroke="#303030" stroke-width="8" stroke-opacity="0.75"/>
<line x1="138" y1="0" x2="0" y2="335" stroke="#303030" stroke-width="9" stroke-opacity="0.75"/>
<line x1="95" y1="108" x2="20" y2="290" stroke="#404040" stroke-width="14" stroke-opacity="0.45"/>
<line x1="208" y1="0" x2="60" y2="352" stroke="#383838" stroke-width="7" stroke-opacity="0.55"/>
<line x1="275" y1="0" x2="125" y2="352" stroke="#3a3a3a" stroke-width="6" stroke-opacity="0.5"/>
<line x1="160" y1="0" x2="25" y2="352" stroke="#3a3a3a" stroke-width="5" stroke-opacity="0.45"/>
<line x1="255" y1="0" x2="105" y2="352" stroke="#3a3a3a" stroke-width="5" stroke-opacity="0.45"/>
<line x1="318" y1="0" x2="211" y2="224" stroke="#2e2e2e" stroke-width="5" stroke-opacity="0.75"/>
<line x1="211" y1="224" x2="156" y2="352" stroke="#2e2e2e" stroke-width="5" stroke-opacity="0.7"/>
<line x1="318" y1="0" x2="338" y2="352" stroke="#1e1e1e" stroke-width="3.5" stroke-opacity="0.95"/>
<line x1="180" y1="0" x2="144" y2="352" stroke="#252525" stroke-width="3.2" stroke-opacity="0.9"/>
<line x1="235" y1="0" x2="195" y2="352" stroke="#2a2a2a" stroke-width="3.2" stroke-opacity="0.85"/>
<line x1="327" y1="298" x2="326" y2="304" stroke="#dcdcdc" stroke-width="2.2"/>
<line x1="119" y1="246" x2="119" y2="250" stroke="#dcdcdc" stroke-width="2.2"/>
<line x1="65" y1="305" x2="62" y2="316" stroke="#dcdcdc" stroke-width="2.2"/>
<line x1="119" y1="223" x2="118" y2="233" stroke="#dcdcdc" stroke-width="2.2"/>
<line x1="139" y1="116" x2="138" y2="127" stroke="#dcdcdc" stroke-width="2.2"/>
<line x1="145" y1="164" x2="144" y2="170" stroke="#dcdcdc" stroke-width="2.2"/>
<line x1="69" y1="198" x2="67" y2="208" stroke="#dcdcdc" stroke-width="2.2"/>
<line x1="275" y1="283" x2="272" y2="291" stroke="#dcdcdc" stroke-width="2.2"/>
<line x1="315" y1="125" x2="315" y2="131" stroke="#dcdcdc" stroke-width="2.2"/>
<line x1="287" y1="24" x2="286" y2="36" stroke="#dcdcdc" stroke-width="2.2"/>
<line x1="191" y1="219" x2="190" y2="233" stroke="#dcdcdc" stroke-width="2.2"/>
<line x1="69" y1="182" x2="66" y2="190" stroke="#dcdcdc" stroke-width="2.2"/>
</g>
</g>
<clipPath id="c5"><rect x="1998.0" y="1493.7" width="355.0" height="352.3"/></clipPath>
<g clip-path="url(#c5)">
<g transform="translate(2175.5,1669.9) rotate(-73)"><rect x="-300" y="-300" width="600" height="600" filter="url(#nB5)"/></g>
<g filter="url(#bl)" transform="translate(1998.0,1493.7) scale(1.0085,1)" fill="none" stroke-linecap="round">
<line x1="57" y1="0" x2="0" y2="138" stroke="#303030" stroke-width="8" stroke-opacity="0.75"/>
<line x1="138" y1="0" x2="0" y2="335" stroke="#303030" stroke-width="9" stroke-opacity="0.75"/>
<line x1="95" y1="108" x2="20" y2="290" stroke="#404040" stroke-width="14" stroke-opacity="0.45"/>
<line x1="208" y1="0" x2="60" y2="352" stroke="#383838" stroke-width="7" stroke-opacity="0.55"/>
<line x1="275" y1="0" x2="125" y2="352" stroke="#3a3a3a" stroke-width="6" stroke-opacity="0.5"/>
<line x1="160" y1="0" x2="25" y2="352" stroke="#3a3a3a" stroke-width="5" stroke-opacity="0.45"/>
<line x1="255" y1="0" x2="105" y2="352" stroke="#3a3a3a" stroke-width="5" stroke-opacity="0.45"/>
<line x1="318" y1="0" x2="211" y2="224" stroke="#2e2e2e" stroke-width="5" stroke-opacity="0.75"/>
<line x1="211" y1="224" x2="156" y2="352" stroke="#2e2e2e" stroke-width="5" stroke-opacity="0.7"/>
<line x1="318" y1="0" x2="338" y2="352" stroke="#1e1e1e" stroke-width="3.5" stroke-opacity="0.95"/>
<line x1="180" y1="0" x2="144" y2="352" stroke="#252525" stroke-width="3.2" stroke-opacity="0.9"/>
<line x1="235" y1="0" x2="195" y2="352" stroke="#2a2a2a" stroke-width="3.2" stroke-opacity="0.85"/>
<line x1="300" y1="125" x2="299" y2="139" stroke="#dcdcdc" stroke-width="2.2"/>
<line x1="113" y1="264" x2="111" y2="269" stroke="#dcdcdc" stroke-width="2.2"/>
<line x1="125" y1="258" x2="122" y2="268" stroke="#dcdcdc" stroke-width="2.2"/>
<line x1="126" y1="66" x2="124" y2="74" stroke="#dcdcdc" stroke-width="2.2"/>
<line x1="162" y1="301" x2="162" y2="307" stroke="#dcdcdc" stroke-width="2.2"/>
<line x1="336" y1="212" x2="336" y2="224" stroke="#dcdcdc" stroke-width="2.2"/>
<line x1="184" y1="93" x2="183" y2="107" stroke="#dcdcdc" stroke-width="2.2"/>
<line x1="216" y1="48" x2="216" y2="60" stroke="#dcdcdc" stroke-width="2.2"/>
<line x1="300" y1="332" x2="300" y2="344" stroke="#dcdcdc" stroke-width="2.2"/>
<line x1="140" y1="186" x2="138" y2="197" stroke="#dcdcdc" stroke-width="2.2"/>
<line x1="217" y1="283" x2="215" y2="293" stroke="#dcdcdc" stroke-width="2.2"/>
<line x1="328" y1="271" x2="328" y2="282" stroke="#dcdcdc" stroke-width="2.2"/>
</g>
</g>
<g font-size="79" fill="#fff" stroke="#8a8a8a" stroke-width="1.6">
<text x="376.3" y="1809" text-anchor="end">0 h</text>
<text x="760" y="1809" text-anchor="end">1.03 h</text>
<text x="1150" y="1809" text-anchor="end">1.1 h</text>
<text x="1550.5" y="1809" text-anchor="end">3.7 h</text>
<text x="1947.5" y="1809" text-anchor="end">6.83 h</text>
<text x="2344.5" y="1809" text-anchor="end">24.42 h</text>
</g>
</svg>
</body></html>
